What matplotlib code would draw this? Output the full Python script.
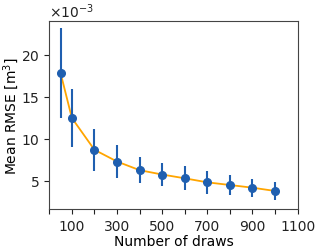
import numpy as np
import matplotlib.pyplot as plt
from matplotlib.ticker import ScalarFormatter

n_draws = [50, 100, 200, 300, 400, 500, 600, 700, 800, 900, 1000]
mean_rmse = [17.85, 12.48, 8.69, 7.29, 6.26, 5.74, 5.29, 4.81, 4.49, 4.17, 3.78]
err = [5.4, 3.5, 2.5, 2.0, 1.55, 1.4, 1.45, 1.4, 1.15, 1.05, 1.05]

scale = 1e-3
y = np.array(mean_rmse) * scale
yerr = np.array(err) * scale

fig = plt.figure(figsize=(3.2, 2.51), dpi=100)
ax = fig.add_axes([0.154, 0.163, 0.776, 0.748])

ax.plot(n_draws, y, color='orange', lw=1.3, zorder=1)
ax.errorbar(n_draws, y, yerr=yerr, fmt='o', color='#1f5fb0', ms=5.5,
            elinewidth=1.5, zorder=2)

ax.set_xlim(0, 1100)
ax.set_ylim(1.62e-3, 24.0e-3)
ax.set_xticks(np.arange(0, 1101, 100))
ax.set_xticklabels([str(t) if (t // 100) % 2 == 1 else '' for t in range(0, 1101, 100)])
ax.set_yticks([5e-3, 10e-3, 15e-3, 20e-3])
fmt = ScalarFormatter(useMathText=True)
fmt.set_powerlimits((-3, -3))
ax.yaxis.set_major_formatter(fmt)

for s in ax.spines.values():
    s.set_color('#444444')
ax.tick_params(labelsize=10, colors='#222222')
ax.yaxis.get_offset_text().set_fontsize(10)

ax.set_xlabel('Number of draws', fontsize=10, labelpad=1)
ax.set_ylabel('Mean RMSE [m$^3$]', fontsize=10, labelpad=0)

fig.savefig('out.png', dpi=100)
